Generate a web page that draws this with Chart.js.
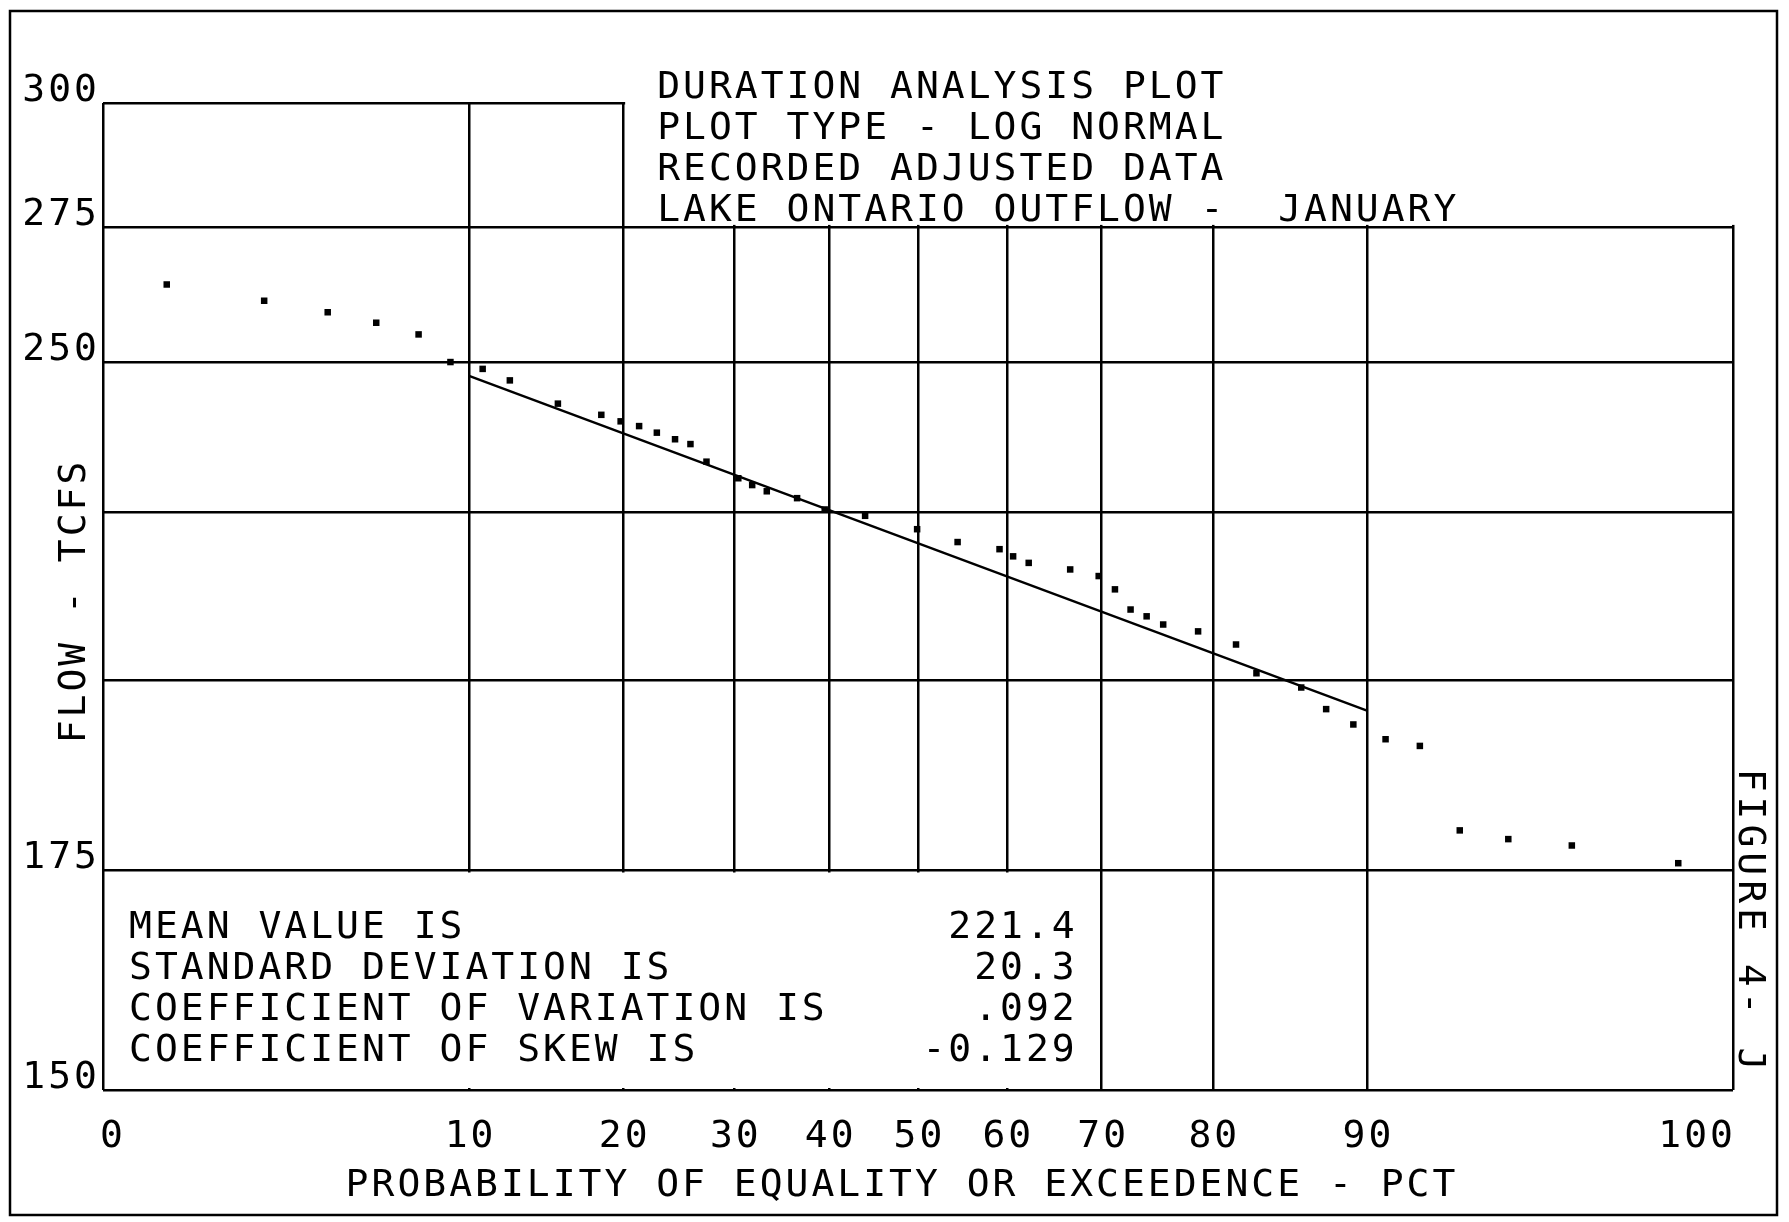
<!DOCTYPE html>
<html>
<head>
<meta charset="utf-8">
<title>Duration Analysis Plot - Lake Ontario Outflow, January</title>
<script src="https://cdn.jsdelivr.net/npm/chart.js@4.4.1/dist/chart.umd.min.js"></script>
<style>
  html, body { margin: 0; padding: 0; background: #fff; }
  canvas { display: block; }
</style>
</head>
<body>
<canvas id="chart" width="1789" height="1222"></canvas>
<script>
// recorded adjusted January outflows, plotted against probability of equality or exceedence (pct)
const probPct = [1.6, 3.1, 4.6, 6.1, 7.7, 9.1, 10.7, 12.2, 15.2, 18.3, 19.8, 21.3, 22.8, 24.4, 25.8,
  27.3, 30.4, 31.8, 33.3, 36.5, 39.5, 44.0, 49.9, 54.5, 59.2, 60.7, 62.4, 66.8, 69.7, 71.3,
  72.8, 74.3, 75.8, 78.8, 81.8, 83.3, 86.3, 87.8, 89.3, 90.9, 92.4, 93.9, 95.4, 96.9, 98.5];
const flowTcfs = [264.1, 261.1, 259.0, 257.1, 255.0, 250.1, 248.9, 246.9, 242.9, 241.0, 239.9, 239.1, 238.0, 236.9, 236.1,
  233.2, 230.5, 229.4, 228.4, 227.3, 225.5, 224.5, 222.4, 220.4, 219.3, 218.2, 217.2, 216.2, 215.2, 213.2,
  210.2, 209.2, 208.0, 207.0, 205.1, 201.0, 199.0, 196.0, 193.9, 191.9, 191.0, 180.0, 178.9, 178.1, 175.9];

// fitted log normal line, drawn from 10 to 90 pct
const fitPct = [10, 90];
const fitFlow = [247.7, 195.8];

const xTicks = [0, 10, 20, 30, 40, 50, 60, 70, 80, 90, 100];
const yTicks = [150, 175, 200, 225, 250, 275, 300];
const yTickLabels = [150, 175, 250, 275, 300];

const titleLines = [
  'DURATION ANALYSIS PLOT',
  'PLOT TYPE - LOG NORMAL',
  'RECORDED ADJUSTED DATA',
  'LAKE ONTARIO OUTFLOW -  JANUARY'
];
const statNames = ['MEAN VALUE IS', 'STANDARD DEVIATION IS', 'COEFFICIENT OF VARIATION IS', 'COEFFICIENT OF SKEW IS'];
const statValues = ['221.4', '20.3', '.092', '-0.129'];

const xTitle = 'PROBABILITY OF EQUALITY OR EXCEEDENCE - PCT';
const yTitle = 'FLOW - TCFS';
const figureLabel = 'FIGURE 4- J';

const FONT = "38px 'DejaVu Sans Mono'";
const INK = '#000';

// inverse standard normal cdf (Acklam's rational approximation)
function probit(p) {
  const a = [-3.969683028665376e+01, 2.209460984245205e+02, -2.759285104469687e+02, 1.383577518672690e+02, -3.066479806614716e+01, 2.506628277459239e+00];
  const b = [-5.447609879822406e+01, 1.615858368580409e+02, -1.556989798598866e+02, 6.680131188771972e+01, -1.328068155288572e+01];
  const c = [-7.784894002430293e-03, -3.223964580411365e-01, -2.400758277161838e+00, -2.549732539343734e+00, 4.374664141464968e+00, 2.938163982698783e+00];
  const d = [7.784695709041462e-03, 3.224671290700398e-01, 2.445134137142996e+00, 3.754408661907416e+00];
  const lo = 0.02425;
  let q, r;
  if (p < lo) {
    q = Math.sqrt(-2 * Math.log(p));
    return (((((c[0] * q + c[1]) * q + c[2]) * q + c[3]) * q + c[4]) * q + c[5]) / ((((d[0] * q + d[1]) * q + d[2]) * q + d[3]) * q + 1);
  }
  if (p > 1 - lo) {
    q = Math.sqrt(-2 * Math.log(1 - p));
    return -(((((c[0] * q + c[1]) * q + c[2]) * q + c[3]) * q + c[4]) * q + c[5]) / ((((d[0] * q + d[1]) * q + d[2]) * q + d[3]) * q + 1);
  }
  q = p - 0.5;
  r = q * q;
  return (((((a[0] * r + a[1]) * r + a[2]) * r + a[3]) * r + a[4]) * r + a[5]) * q / (((((b[0] * r + b[1]) * r + b[2]) * r + b[3]) * r + b[4]) * r + 1);
}

function normCdf(z) {
  const t = 1 / (1 + 0.2316419 * Math.abs(z));
  const dens = 0.3989423 * Math.exp(-z * z / 2);
  const tail = dens * t * (0.3193815 + t * (-0.3565638 + t * (1.781478 + t * (-1.821256 + t * 1.330274))));
  return z > 0 ? 1 - tail : tail;
}

// probability paper: 1 to 99 pct across the axis, the ends are marked 0 and 100
const Z_END = probit(0.99);

class ProbabilityScale extends Chart.LinearScale {
  static id = 'probability';
  getPixelForValue(value) {
    const p = Math.min(99, Math.max(1, value)) / 100;
    return this.getPixelForDecimal((probit(p) + Z_END) / (2 * Z_END));
  }
  getValueForPixel(pixel) {
    const z = this.getDecimalForPixel(pixel) * 2 * Z_END - Z_END;
    return normCdf(z) * 100;
  }
}
Chart.register(ProbabilityScale);

const paper = {
  id: 'paper',
  beforeDraw(chart) {
    const ctx = chart.ctx;
    ctx.fillStyle = '#fff';
    ctx.fillRect(0, 0, chart.width, chart.height);
    ctx.letterSpacing = '3px';
  },
  // the title panel and the statistics box sit on top of the grid
  beforeDatasetsDraw(chart) {
    const { ctx, chartArea: a, scales: { x, y } } = chart;
    const x20 = x.getPixelForValue(20);
    const x70 = x.getPixelForValue(70);
    const y275 = y.getPixelForValue(275);
    const y175 = y.getPixelForValue(175);
    ctx.save();
    ctx.fillStyle = '#fff';
    ctx.fillRect(x20 + 2, a.top - 4, a.right + 4 - (x20 + 2), y275 - 2 - (a.top - 4));
    ctx.fillRect(a.left + 2, y175 + 2, x70 - a.left - 4, a.bottom - y175 - 4);
    ctx.restore();
  },
  afterDraw(chart) {
    const { ctx, chartArea: a, scales: { x, y } } = chart;
    const x20 = x.getPixelForValue(20);
    const x70 = x.getPixelForValue(70);
    const y175 = y.getPixelForValue(175);
    ctx.save();
    ctx.fillStyle = INK;
    ctx.strokeStyle = INK;
    ctx.font = FONT;
    ctx.letterSpacing = '3px';
    ctx.textBaseline = 'alphabetic';

    // probability tick labels
    xTicks.forEach((v, i) => {
      let px = x.getPixelForValue(v);
      if (i === 0) { ctx.textAlign = 'left'; px -= 3; }
      else if (i === xTicks.length - 1) { ctx.textAlign = 'right'; px += 3; }
      else { ctx.textAlign = 'center'; px += 1.5; }
      ctx.fillText(String(v), px, a.bottom + 57);
    });

    // x axis title
    ctx.textAlign = 'center';
    ctx.fillText(xTitle, 902, a.bottom + 106);

    // heading
    ctx.textAlign = 'left';
    titleLines.forEach((t, i) => ctx.fillText(t, x20 + 34, 98 + i * 41));

    // statistics
    statNames.forEach((t, i) => {
      const by = y175 + 68 + i * 41;
      ctx.textAlign = 'left';
      ctx.fillText(t, a.left + 26, by);
      ctx.textAlign = 'right';
      ctx.fillText(statValues[i], x70 - 24, by);
    });

    // flow axis title, reading upward
    ctx.save();
    ctx.translate(85, 601);
    ctx.rotate(-Math.PI / 2);
    ctx.textAlign = 'center';
    ctx.fillText(yTitle, 0, 0);
    ctx.restore();

    // figure number down the right margin
    ctx.save();
    ctx.translate(1739, 922);
    ctx.rotate(Math.PI / 2);
    ctx.textAlign = 'center';
    ctx.letterSpacing = '5px';
    ctx.fillText(figureLabel, 0, 0);
    ctx.restore();

    // sheet border
    ctx.lineWidth = 2.5;
    ctx.strokeRect(10, 11, 1767, 1204);
    ctx.restore();
  }
};

const gridStyle = { color: INK, lineWidth: 2.5, drawTicks: false };

new Chart(document.getElementById('chart'), {
  type: 'scatter',
  data: {
    datasets: [
      {
        label: 'Recorded flow',
        data: probPct.map((p, i) => ({ x: p, y: flowTcfs[i] })),
        pointStyle: 'rect',
        pointRadius: 4.6,
        backgroundColor: INK,
        borderColor: INK,
        borderWidth: 0
      },
      {
        label: 'Log normal fit',
        data: fitPct.map((p, i) => ({ x: p, y: fitFlow[i] })),
        showLine: true,
        pointRadius: 0,
        borderColor: INK,
        borderWidth: 2.4,
        fill: false
      }
    ]
  },
  options: {
    responsive: false,
    animation: false,
    events: [],
    layout: { padding: { left: 0, top: 103, right: 56, bottom: 0 } },
    plugins: { legend: { display: false }, tooltip: { enabled: false } },
    scales: {
      x: {
        type: 'probability',
        min: 0,
        max: 100,
        afterBuildTicks: s => { s.ticks = xTicks.map(v => ({ value: v })); },
        afterFit: s => { s.height = 132; },
        grid: gridStyle,
        border: { display: false },
        ticks: { display: false, autoSkip: false }
      },
      y: {
        type: 'logarithmic',
        min: 150,
        max: 300,
        bounds: 'data',
        afterBuildTicks: s => { s.ticks = yTicks.map(v => ({ value: v })); },
        afterFit: s => { s.width = 103; },
        grid: gridStyle,
        border: { display: false },
        ticks: {
          autoSkip: false,
          color: INK,
          font: { family: "'DejaVu Sans Mono'", size: 38 },
          padding: 3,
          labelOffset: -12,
          callback: v => (yTickLabels.includes(v) ? String(v) : '')
        }
      }
    }
  },
  plugins: [paper]
});
</script>
</body>
</html>
